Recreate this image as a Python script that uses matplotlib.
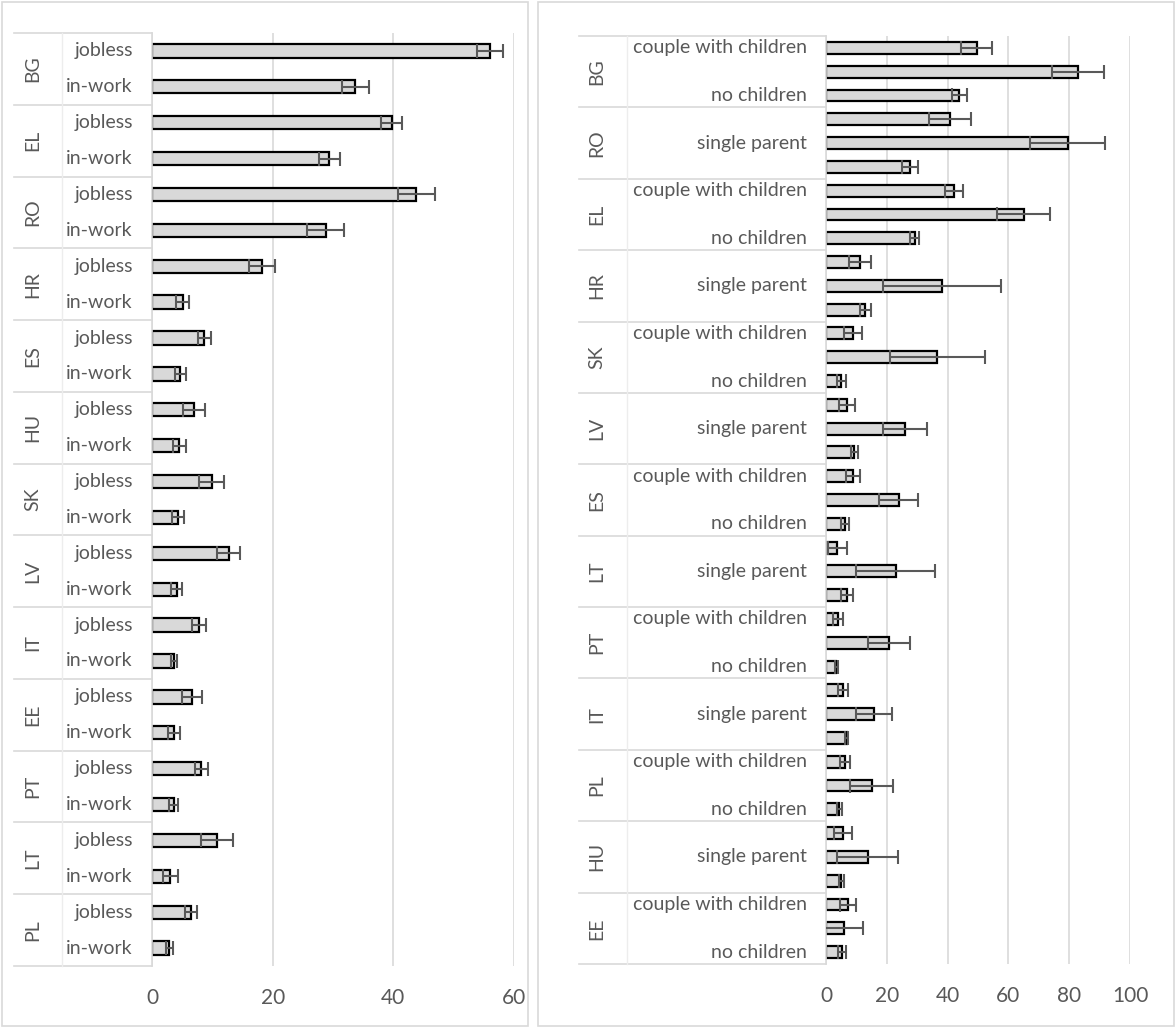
import matplotlib
matplotlib.use("Agg")
import matplotlib.pyplot as plt
import matplotlib.transforms as mtransforms
from matplotlib.patches import Rectangle
from matplotlib.lines import Line2D

plt.rcParams['font.family'] = ['Lato', 'DejaVu Sans']

# ---- left chart: jobless vs in-work ----
left_countries = ["BG", "EL", "RO", "HR", "ES", "HU", "SK", "LV", "IT", "EE", "PT", "LT", "PL"]
left_groups = ["jobless", "in-work"]
left_values = [56.0, 33.7, 39.7, 29.4, 43.8, 28.8, 18.2, 5.1, 8.7, 4.7, 7.0, 4.55,
               9.9, 4.3, 12.7, 4.1, 7.8, 3.7, 6.7, 3.7, 8.2, 3.6, 10.8, 3.0, 6.4, 2.9]
left_errors = [2.2, 2.2, 1.75, 1.75, 3.05, 3.05, 2.15, 1.1, 1.1, 0.95, 1.8, 1.15,
               2.05, 0.95, 1.9, 0.9, 1.1, 0.5, 1.65, 1.0, 1.15, 0.7, 2.6, 1.25, 1.0, 0.6]
left_ticks = [0, 20, 40, 60]

# ---- right chart: household type ----
right_countries = ["BG", "RO", "EL", "HR", "SK", "LV", "ES", "LT", "PT", "IT", "PL", "HU", "EE"]
right_groups = ["couple with children", "single parent", "no children"]
right_values = [49.6, 82.9, 43.9,  40.8, 79.5, 27.7,  42.1, 65.0, 29.2,
                11.1, 38.1, 12.9,  8.9, 36.6, 5.0,  6.9, 25.9, 9.3,
                8.9, 23.9, 6.3,  3.7, 23.0, 6.9,  4.0, 20.8, 3.4,
                5.6, 15.8, 6.9,  6.3, 15.0, 4.3,  5.6, 13.7, 5.0,
                7.3, 5.9, 5.3]
right_errors = [5.15, 8.5, 2.45,  7.0, 12.3, 2.6,  3.0, 8.7, 1.5,
                3.6, 19.5, 1.75,  3.0, 15.7, 1.5,  2.6, 7.2, 1.2,
                2.2, 6.5, 1.25,  3.2, 13.0, 2.0,  1.6, 6.9, 0.6,
                1.6, 5.9, 0.5,  1.75, 7.0, 0.8,  3.0, 10.0, 0.85,
                2.6, 6.3, 1.3]
right_ticks = [0, 20, 40, 60, 80, 100]

W, H = 1176, 1028
fig = plt.figure(figsize=(W / 100, H / 100), dpi=100)

TXT = '#595959'
GRID = '#d9d9d9'
FS = 14


def px(x0, y0, x1, y1):
    return [x0 / W, 1 - y1 / H, (x1 - x0) / W, (y1 - y0) / H]


def draw_panel(box, ax_px, cat_x0, cat_div, countries, groups, values, errors,
               ticks, bar_h, label_every, country_x, sub_x):
    # panel border
    fig.patches.append(Rectangle((box[0] / W, 1 - box[3] / H), (box[2] - box[0]) / W,
                                 (box[3] - box[1]) / H, transform=fig.transFigure,
                                 fill=False, edgecolor=GRID, lw=1.2))
    ax = fig.add_axes(px(*ax_px))
    n = len(values)
    ypos = list(range(n))
    ax.barh(ypos, values, height=bar_h, color='#d9d9d9', edgecolor='black',
            linewidth=1.6, zorder=2)
    ax.errorbar(values, ypos, xerr=errors, fmt='none', ecolor=TXT, elinewidth=1.5,
                capsize=5, capthick=1.5, zorder=3)
    ax.set_ylim(n - 0.5, -0.5)
    ax.set_xlim(ticks[0], ticks[-1])
    ax.set_xticks(ticks)
    ax.set_yticks([])
    ax.tick_params(axis='x', length=0, labelsize=FS + 1, labelcolor=TXT, pad=16)
    ax.grid(axis='x', color=GRID, lw=1.2, zorder=0)
    for s in ['top', 'right', 'bottom']:
        ax.spines[s].set_visible(False)
    ax.spines['left'].set_color(GRID)
    ax.spines['left'].set_linewidth(1.2)
    ax.set_axisbelow(True)

    tr = mtransforms.blended_transform_factory(fig.transFigure, ax.transData)
    g = len(groups)
    x0 = cat_x0 / W
    xa = ax_px[0] / W
    # group separators
    for k in range(len(countries) + 1):
        yb = k * g - 0.5
        fig.add_artist(Line2D([x0, xa], [yb, yb], transform=tr, color=GRID, lw=1.2))
    fig.add_artist(Line2D([cat_div / W, cat_div / W], [-0.5, n - 0.5], transform=tr,
                          color='#ededed', lw=1.0))
    for k, c in enumerate(countries):
        fig.text(country_x / W, k * g + (g - 1) / 2, c, transform=tr, rotation=90,
                 ha='center', va='center', fontsize=FS, color=TXT)
    for i in range(n):
        if i % label_every == 0:
            fig.text(sub_x / W, i, groups[i % g], transform=tr, ha='right',
                     va='center', fontsize=FS, color=TXT)
    return ax


draw_panel((2, 2, 528, 1026), (152, 33, 514, 966), 14, 62, left_countries, left_groups,
           left_values, left_errors, left_ticks, 0.37, 1, 33, 133)
draw_panel((538, 2, 1174, 1026), (826, 36, 1130, 964), 579, 627, right_countries,
           right_groups, right_values, right_errors, right_ticks, 0.5, 2, 597, 807)

fig.savefig('out.png', dpi=100)
